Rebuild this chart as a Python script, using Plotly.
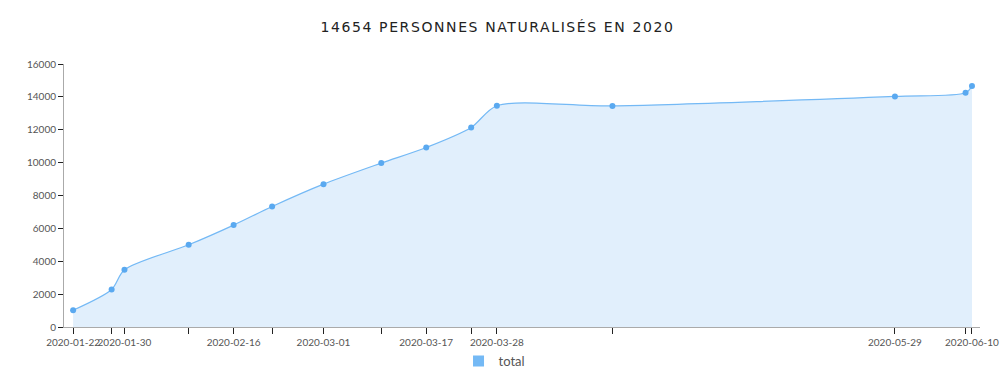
import plotly.graph_objects as go

dates = ["2020-01-22", "2020-01-28", "2020-01-30", "2020-02-09", "2020-02-16",
         "2020-02-22", "2020-03-01", "2020-03-10", "2020-03-17", "2020-03-24",
         "2020-03-28", "2020-04-15", "2020-05-29", "2020-06-09", "2020-06-10"]
totals = [1020, 2280, 3480, 5000, 6200, 7330, 8690, 9970, 10920, 12140,
          13460, 13450, 14030, 14250, 14654]
tick_text = ["2020-01-22", "", "2020-01-30", "", "2020-02-16", "", "2020-03-01", "",
             "2020-03-17", "", "2020-03-28", "", "2020-05-29", "", "2020-06-10"]
y_ticks = [0, 2000, 4000, 6000, 8000, 10000, 12000, 14000, 16000]
y_text = [str(v) for v in y_ticks]

line_color = "#74b9f5"
marker_color = "#5aa9f0"

fig = go.Figure()
fig.add_trace(go.Scatter(
    x=dates, y=totals, mode="lines+markers", name="total",
    line=dict(color=line_color, width=1.2, shape="spline", smoothing=0.8),
    marker=dict(color=marker_color, size=6),
    fill="tozeroy", fillcolor="#e1effc", showlegend=False,
))
fig.add_trace(go.Scatter(
    x=[None], y=[None], mode="markers", name="total",
    marker=dict(color=line_color, symbol="square", size=11),
    showlegend=True,
))

fig.update_layout(
    width=1005, height=382,
    margin=dict(l=64, r=25, t=64, b=55, autoexpand=False),
    paper_bgcolor="white", plot_bgcolor="white",
    title=dict(text='<span style="letter-spacing:1.6px">14654 PERSONNES NATURALISÉS EN 2020</span>',
               x=0.495, xanchor="center", y=0.93, yanchor="middle", yref="container",
               font=dict(family="DejaVu Sans", size=14, color="#222")),
    font=dict(family="Lato", size=10, color="#555"),
    showlegend=True,
    legend=dict(orientation="h", x=0.47, xanchor="center", y=0.055, yanchor="middle",
                yref="container",
                font=dict(family="Lato", size=13, color="#555")),
    xaxis=dict(type="date", range=["2020-01-20T14:00", "2020-06-11T06:00"],
               tickmode="array", tickvals=dates, ticktext=tick_text, tickangle=0,
               automargin=False,
               showgrid=False, zeroline=False, showline=True, linecolor="#aaa",
               linewidth=1, ticks="outside", ticklen=6, tickcolor="#222",
               tickfont=dict(family="Lato", size=10, color="#555")),
    yaxis=dict(range=[0, 16000], tickmode="array", tickvals=y_ticks, ticktext=y_text,
               automargin=False, showgrid=False, zeroline=False,
               showline=True, linecolor="#aaa", linewidth=1, ticks="outside",
               ticklen=5, tickcolor="#222",
               tickfont=dict(family="Lato", size=10, color="#555")),
)

fig.write_html("out.html", config={"displayModeBar": False},
               post_script="document.body.style.margin='0';document.body.style.overflow='hidden';")
